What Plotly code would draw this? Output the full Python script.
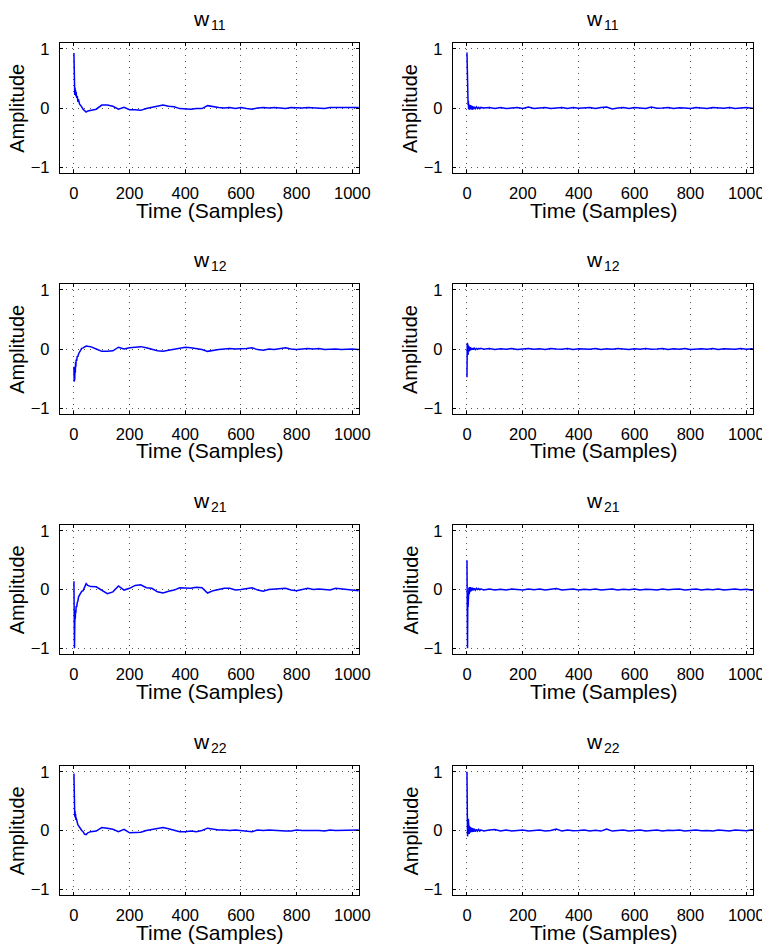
import plotly.graph_objects as go
from plotly.subplots import make_subplots

# ---------------- data ----------------
title_main = ["w", "w", "w", "w", "w", "w", "w", "w"]
title_sub = ["11", "11", "12", "12", "21", "21", "22", "22"]
x_label = "Time (Samples)"
y_label = "Amplitude"

x_ticks = [0, 200, 400, 600, 800, 1000]
y_ticks = [-1, 0, 1]

# time samples for the slowly converging (left) column
t_left = [0, 1, 2, 3, 4, 5, 6, 7, 8, 10, 12, 14, 17, 20, 24, 28, 33, 38, 44, 50,
          60, 80, 100, 120, 140, 160, 180, 200, 220, 240,
          260, 280, 300, 320, 340, 360, 380, 400, 420, 440,
          460, 480, 500, 520, 540, 560, 580, 600, 620, 640,
          660, 680, 700, 720, 740, 760, 780, 800, 820, 840,
          860, 880, 900, 920, 940, 960, 980, 1000, 1020, 1023]

w11_left = [0.93, 0.55, 0.33, 0.22, 0.34, 0.26, 0.30, 0.20, 0.27, 0.17, 0.20, 0.12, 0.13, 0.07, 0.05, 0.02, -0.02, -0.05, -0.07, -0.05,
            -0.04, -0.02, 0.05, 0.05, 0.03, -0.02, 0.01, -0.03, -0.03, -0.04,
            -0.01, 0.01, 0.04, 0.05, 0.03, 0.02, -0.01, -0.02, -0.02, -0.01,
            -0.01, 0.04, 0.02, 0.01, 0.0, 0.01, -0.01, 0.01, -0.01, -0.02,
            0.0, 0.01, 0.0, 0.01, 0.0, -0.01, 0.01, 0.0, 0.0, 0.01,
            0.0, -0.01, -0.01, 0.01, 0.01, 0.0, 0.01, 0.0, 0.01, 0.01]

w12_left = [-0.30, -0.55, -0.45, -0.50, -0.30, -0.40, -0.22, -0.30, -0.18, -0.20, -0.12, -0.13, -0.08, -0.05, -0.02, 0.01, 0.02, 0.04, 0.05, 0.045,
            0.04, 0.0, -0.04, -0.04, -0.03, 0.03, 0.0, 0.02, 0.03, 0.04,
            0.02, -0.01, -0.03, -0.04, -0.02, 0.0, 0.02, 0.03, 0.02, 0.01,
            -0.01, -0.04, -0.02, -0.01, 0.0, 0.01, 0.0, 0.0, 0.01, 0.02,
            -0.01, -0.02, 0.0, -0.01, 0.01, 0.02, 0.0, -0.01, 0.0, 0.01,
            0.0, 0.01, -0.01, 0.0, 0.0, -0.01, 0.0, 0.0, -0.01, -0.01]

w21_left = [0.14, -0.40, -1.0, -0.60, -0.45, -0.50, -0.35, -0.40, -0.28, -0.30, -0.22, -0.20, -0.12, -0.09, -0.05, -0.03, -0.02, 0.03, 0.10, 0.07,
            0.05, 0.045, -0.02, -0.07, -0.04, 0.06, -0.01, 0.02, 0.07, 0.08,
            0.03, 0.02, -0.04, -0.06, -0.03, -0.01, 0.03, 0.03, 0.02, 0.04,
            0.03, -0.06, -0.02, 0.0, 0.02, 0.02, -0.01, 0.0, 0.02, 0.03,
            -0.01, -0.03, 0.0, 0.01, 0.02, 0.02, -0.01, -0.02, 0.0, 0.02,
            0.0, 0.01, 0.0, -0.01, 0.02, 0.01, 0.0, -0.01, -0.02, -0.02]

w22_left = [0.97, 0.60, 0.30, 0.24, 0.33, 0.22, 0.28, 0.18, 0.22, 0.15, 0.16, 0.10, 0.08, 0.05, 0.03, 0.0, -0.02, -0.06, -0.07, -0.04,
            -0.02, -0.01, 0.05, 0.04, 0.02, -0.02, 0.02, -0.04, -0.03, -0.03,
            0.0, 0.02, 0.04, 0.05, 0.03, 0.01, -0.02, -0.02, -0.01, -0.02,
            0.0, 0.04, 0.02, 0.01, 0.01, 0.0, 0.01, 0.0, -0.01, -0.02,
            0.01, 0.0, 0.01, 0.0, 0.0, -0.01, -0.01, 0.01, 0.0, 0.0,
            0.01, 0.0, -0.01, 0.01, 0.0, 0.0, 0.01, 0.01, 0.01, 0.01]

# time samples for the fast converging (right) column
t_right = [0, 1, 2, 3, 4, 5, 6, 7, 8, 9, 10, 12, 14, 16, 18, 20, 23, 26, 30, 34, 38, 42, 46, 50,
           60, 80, 100, 120, 140, 160, 180, 200, 220, 240,
           260, 280, 300, 320, 340, 360, 380, 400, 420, 440,
           460, 480, 500, 520, 540, 560, 580, 600, 620, 640,
           660, 680, 700, 720, 740, 760, 780, 800, 820, 840,
           860, 880, 900, 920, 940, 960, 980, 1000, 1020, 1023]

w11_right = [0.94, 0.40, 0.12, 0.17, 0.05, 0.12, -0.02, 0.08, 0.0, 0.06, -0.03, 0.05, -0.02, 0.04, -0.03, 0.03, -0.02, 0.02, -0.01, 0.02, -0.01, 0.01, -0.01, 0.01,
             0.0, 0.01, -0.01, 0.01, -0.01, 0.0, 0.01, -0.01, 0.015, -0.01,
             0.0, 0.01, -0.01, 0.0, 0.01, -0.01, 0.01, -0.005, 0.0, 0.01,
             -0.01, 0.01, 0.015, -0.015, 0.0, 0.01, -0.01, 0.01, 0.0, -0.01,
             0.015, -0.005, 0.0, 0.01, -0.01, 0.005, 0.0, -0.01, 0.01, 0.0,
             -0.01, 0.01, 0.0, -0.005, 0.01, -0.01, 0.0, 0.01, -0.005, 0.0]

w12_right = [-0.48, 0.10, -0.20, 0.07, -0.10, 0.05, -0.06, 0.04, -0.04, 0.03, -0.03, 0.03, -0.02, 0.02, -0.015, 0.015, -0.01, 0.015, -0.01, 0.01, -0.005, 0.01, 0.0, 0.01,
             -0.005, 0.008, -0.008, 0.005, -0.005, 0.008, -0.008, 0.0, 0.008, -0.005,
             0.005, -0.008, 0.008, 0.0, -0.005, 0.008, -0.008, 0.005, 0.0, -0.005,
             0.008, -0.008, 0.005, -0.005, 0.008, 0.0, -0.008, 0.005, -0.005, 0.008,
             -0.005, 0.0, 0.008, -0.008, 0.005, -0.005, 0.008, -0.008, 0.0, 0.005,
             -0.005, 0.008, -0.008, 0.005, 0.0, -0.005, 0.008, -0.005, 0.005, 0.0]

w21_right = [0.50, -0.20, -1.0, -0.15, -0.30, -0.05, -0.15, 0.03, -0.08, 0.04, -0.05, 0.04, -0.03, 0.03, -0.02, 0.03, -0.01, 0.02, -0.01, 0.02, 0.0, 0.015, -0.005, 0.01,
             -0.01, 0.01, -0.01, 0.005, -0.01, 0.01, 0.0, -0.01, 0.01, -0.005,
             0.01, -0.01, 0.005, 0.015, -0.01, 0.0, 0.01, -0.01, 0.005, -0.005,
             0.01, -0.01, 0.0, 0.01, -0.01, 0.005, -0.005, 0.01, -0.01, 0.005,
             0.0, -0.01, 0.01, -0.005, 0.005, 0.01, -0.01, 0.0, 0.01, -0.01,
             0.005, -0.005, 0.01, -0.01, 0.0, 0.01, -0.005, 0.005, -0.01, 0.0]

w22_right = [1.0, 0.45, -0.10, 0.22, 0.02, 0.20, -0.05, 0.10, -0.06, 0.08, -0.04, 0.06, -0.03, 0.05, -0.03, 0.04, -0.02, 0.03, -0.02, 0.02, -0.01, 0.02, -0.01, 0.01,
             -0.01, 0.01, 0.015, -0.01, 0.01, -0.01, 0.005, 0.01, -0.01, 0.0,
             0.01, -0.01, 0.0, 0.025, -0.01, 0.01, -0.005, 0.0, 0.01, -0.01,
             0.005, -0.01, 0.025, -0.01, 0.0, 0.01, -0.01, 0.005, 0.01, -0.01,
             0.0, 0.01, -0.01, 0.005, 0.0, 0.01, -0.01, 0.0, 0.01, -0.005,
             0.0, -0.01, 0.01, 0.0, -0.01, 0.01, 0.005, -0.005, 0.01, 0.0]

series = [(t_left, w11_left), (t_right, w11_right),
          (t_left, w12_left), (t_right, w12_right),
          (t_left, w21_left), (t_right, w21_right),
          (t_left, w22_left), (t_right, w22_right)]

# ---------------- layout geometry (page pixels) ----------------
PAGE_W, PAGE_H = 770, 949
OFF = 8                      # default body margin of the html page
W, H = PAGE_W - OFF, PAGE_H - OFF
col_px = [(60, 359), (453, 753)]
row_px = [(43, 173), (284, 414), (525, 654), (766, 895)]
ylabel_px = [16.8, 410]


def px_x(p):
    return (p - OFF) / W


def px_y(p):
    return 1 - (p - OFF) / H


FONT = "Liberation Sans, Arial, Helvetica, sans-serif"

fig = make_subplots(rows=4, cols=2)

axis_common = dict(
    ticks="inside", ticklen=3, tickcolor="black", mirror="allticks",
    showline=True, linecolor="black", linewidth=1.3,
    showgrid=True, gridcolor="#555555", griddash="1px,5px", gridwidth=1,
    zeroline=False, tickfont=dict(size=16.5, color="black", family=FONT),
    automargin=False,
)

annotations = []
for i, (tx, yv) in enumerate(series):
    r, c = i // 2, i % 2
    fig.add_trace(go.Scatter(x=tx, y=yv, mode="lines",
                             line=dict(color="#0000FF", width=1.5),
                             showlegend=False, hoverinfo="skip"),
                  row=r + 1, col=c + 1)
    x0, x1 = col_px[c]
    y0, y1 = row_px[r]
    xd = [px_x(x0), px_x(x1)]
    yd = [px_y(y1), px_y(y0)]
    sfx = "" if i == 0 else str(i + 1)
    fig.layout["xaxis" + sfx].update(
        domain=xd, range=[-50, 1024], tickvals=x_ticks,
        ticklabelstandoff=5, **axis_common)
    fig.layout["yaxis" + sfx].update(
        domain=yd, range=[-1.1, 1.1], tickvals=y_ticks,
        ticklabelstandoff=6, **axis_common)
    xc = (x0 + x1) / 2
    yc = (y0 + y1) / 2
    # title letter and subscript
    annotations.append(dict(text=title_main[i], x=px_x(xc), y=px_y(y0 - 24.5),
                            xref="paper", yref="paper", xanchor="right", yanchor="middle",
                            xshift=2, showarrow=False,
                            font=dict(size=21, color="black", family=FONT)))
    annotations.append(dict(text=title_sub[i], x=px_x(xc), y=px_y(y0 - 18.0),
                            xref="paper", yref="paper", xanchor="left", yanchor="middle",
                            xshift=-1, showarrow=False,
                            font=dict(size=14, color="black", family=FONT)))
    # x axis label
    annotations.append(dict(text=x_label, x=px_x(xc), y=px_y(y1 + 37),
                            xref="paper", yref="paper", xanchor="center", yanchor="middle",
                            showarrow=False, font=dict(size=21, color="black", family=FONT)))
    # y axis label
    annotations.append(dict(text=y_label, x=px_x(ylabel_px[c]), y=px_y(yc),
                            xref="paper", yref="paper", xanchor="center", yanchor="middle",
                            textangle=-90, showarrow=False,
                            font=dict(size=20, color="black", family=FONT)))

fig.update_layout(width=W, height=H, margin=dict(l=0, r=0, t=0, b=0, autoexpand=False),
                  paper_bgcolor="white", plot_bgcolor="white",
                  font=dict(family=FONT, color="black"),
                  annotations=annotations, showlegend=False)

fig.write_html("out.html")
